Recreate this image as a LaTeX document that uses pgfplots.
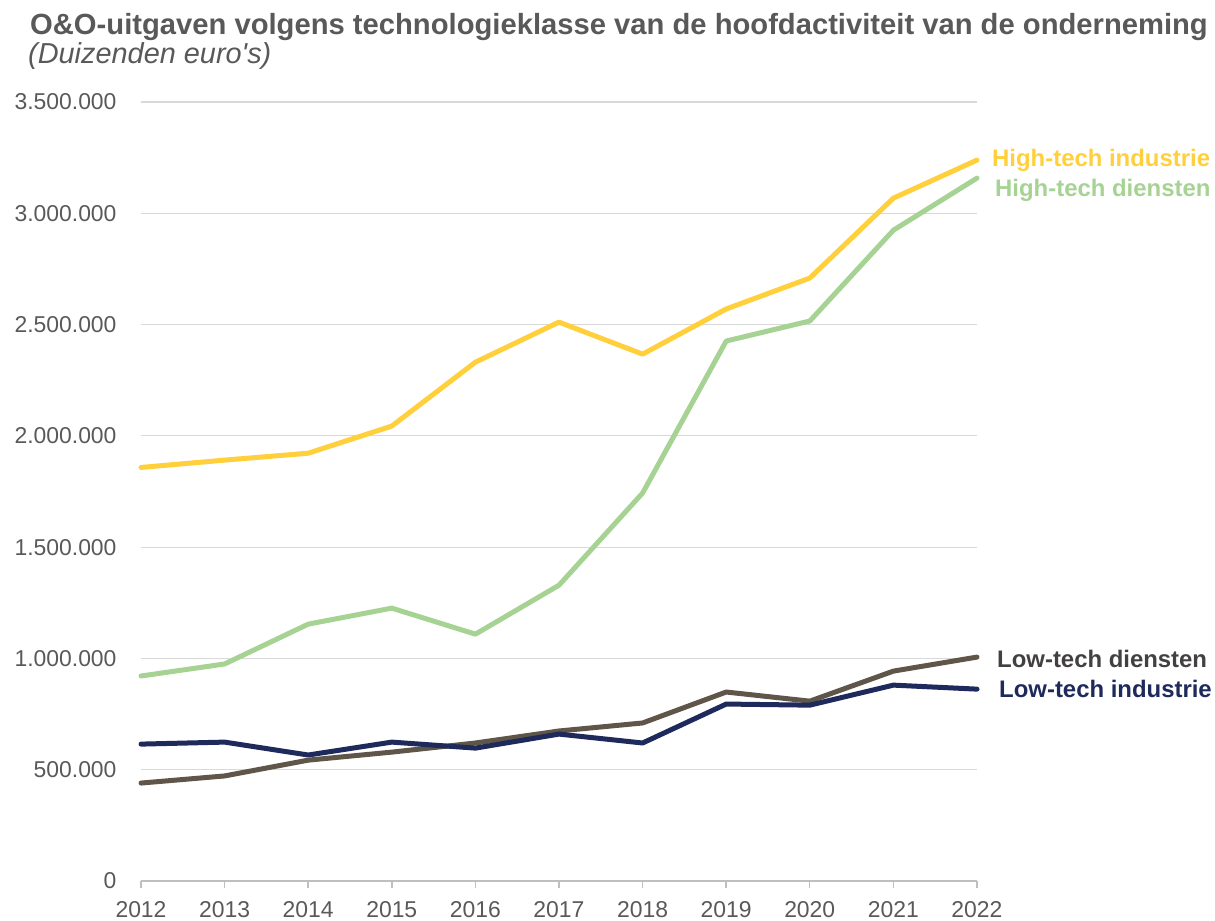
\documentclass[border=0pt]{standalone}
\usepackage{fontspec}
\setmainfont{Liberation Sans}
\usepackage{pgfplots}
\pgfplotsset{compat=1.18}

\definecolor{hti}{HTML}{FFD03B}
\definecolor{htd}{HTML}{A6D393}
\definecolor{ltd}{HTML}{5F5549}
\definecolor{lti}{HTML}{1F2A5C}
\definecolor{ltdlab}{HTML}{434040}
\definecolor{txt}{HTML}{595959}
\definecolor{gridc}{HTML}{D9D9D9}
\definecolor{axc}{HTML}{BFBFBF}

\begin{document}
\begin{tikzpicture}[x=1bp,y=1bp]
\useasboundingbox (0,0) rectangle (1215,921);
\node[anchor=base west,inner sep=0,text=txt,font=\fontsize{29.3}{33}\selectfont\bfseries] at (30,886) {O\&O-uitgaven volgens technologieklasse van de hoofdactiviteit van de onderneming};
\node[anchor=base west,inner sep=0,text=txt,font=\fontsize{29}{33}\selectfont\itshape] at (28,857) {(Duizenden euro\textquotesingle s)};
\begin{axis}[
  at={(141bp,40bp)}, anchor=south west,
  scale only axis, width=836bp, height=779bp,
  xmin=2012, xmax=2022, ymin=0, ymax=3500000,
  axis x line*=bottom, axis y line*=left,
  x axis line style={draw=axc, line width=1.5bp},
  y axis line style={draw=none},
  xtick={2012,...,2022},
  xticklabels={2012,2013,2014,2015,2016,2017,2018,2019,2020,2021,2022},
  ytick={0,500000,1000000,1500000,2000000,2500000,3000000,3500000},
  yticklabels={0,500.000,1.000.000,1.500.000,2.000.000,2.500.000,3.000.000,3.500.000},
  scaled y ticks=false,
  ymajorgrids, major grid style={draw=gridc, line width=1.2bp},
  tick align=outside, major tick length=7bp,
  xtick style={draw=axc, line width=1.5bp},
  ytick style={draw=none},
  ticklabel style={font=\fontsize{23}{27}\selectfont, text=txt},
  xticklabel style={yshift=-10bp},
  yticklabel style={xshift=-14bp},
  clip=false,
  every axis plot/.append style={line width=5bp, line join=round, line cap=round},
]
\addplot[htd] coordinates {(2012,921000)(2013,975000)(2014,1154000)(2015,1226000)(2016,1109000)(2017,1329000)(2018,1743000)(2019,2426000)(2020,2516000)(2021,2924000)(2022,3158000)};
\addplot[hti] coordinates {(2012,1858000)(2013,1891000)(2014,1922000)(2015,2044000)(2016,2331000)(2017,2511000)(2018,2367000)(2019,2570000)(2020,2709000)(2021,3068000)(2022,3239000)};
\addplot[ltd] coordinates {(2012,440000)(2013,472000)(2014,543000)(2015,579000)(2016,620000)(2017,674000)(2018,710000)(2019,849000)(2020,808000)(2021,943000)(2022,1006000)};
\addplot[lti] coordinates {(2012,615000)(2013,624000)(2014,566000)(2015,624000)(2016,597000)(2017,660000)(2018,620000)(2019,795000)(2020,790000)(2021,880000)(2022,862000)};
\node[anchor=west,inner sep=0,text=hti,font=\fontsize{24}{28}\selectfont\bfseries] at (axis cs:2022,3239000) [xshift=15bp] {High-tech industrie};
\node[anchor=west,inner sep=0,text=htd,font=\fontsize{24}{28}\selectfont\bfseries] at (axis cs:2022,3104000) [xshift=18bp] {High-tech diensten};
\node[anchor=west,inner sep=0,text=ltdlab,font=\fontsize{24}{28}\selectfont\bfseries] at (axis cs:2022,997000) [xshift=20bp] {Low-tech diensten};
\node[anchor=west,inner sep=0,text=lti,font=\fontsize{24}{28}\selectfont\bfseries] at (axis cs:2022,862000) [xshift=22bp] {Low-tech industrie};
\end{axis}
\end{tikzpicture}
\end{document}
